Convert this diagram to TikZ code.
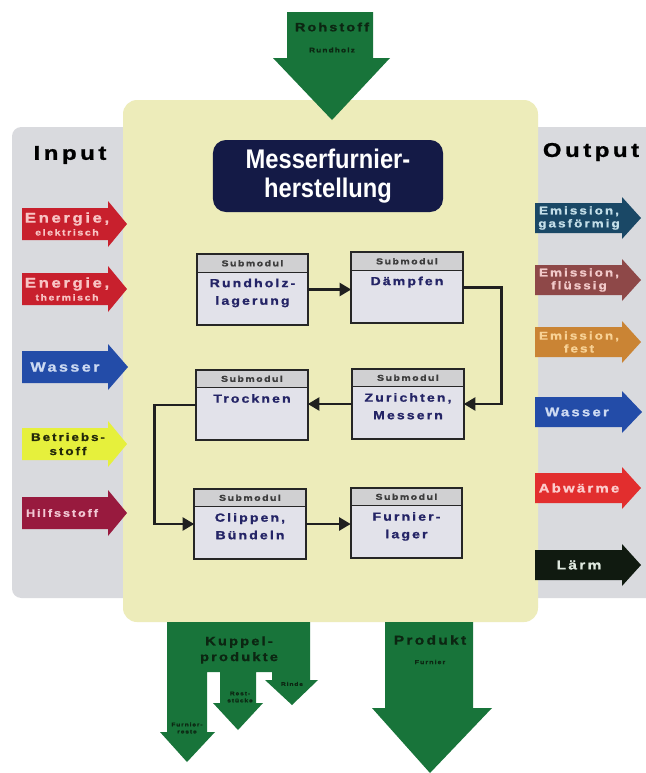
\documentclass[tikz,border=0pt]{standalone}
\usepackage{fontspec}
\setmainfont{Liberation Sans}
\newfontfamily\wf[FakeStretch=1.2,LetterSpace=18,FakeBold=1.2]{Liberation Sans}
\newfontfamily\tf[FakeStretch=0.88]{Liberation Sans}
\usetikzlibrary{calc,arrows.meta}

\definecolor{panelgray}{RGB}{217,218,222}
\definecolor{yellowbg}{RGB}{237,236,186}
\definecolor{prodgreen}{RGB}{24,116,58}
\definecolor{greentext}{RGB}{12,38,18}
\definecolor{navy}{RGB}{20,26,70}
\definecolor{cRed}{RGB}{200,32,45}
\definecolor{cRedTxt}{RGB}{248,196,196}
\definecolor{cBlue}{RGB}{35,76,168}
\definecolor{cBlueTxt}{RGB}{205,218,242}
\definecolor{cYel}{RGB}{230,240,60}
\definecolor{cYelTxt}{RGB}{35,40,10}
\definecolor{cCrim}{RGB}{152,26,62}
\definecolor{cCrimTxt}{RGB}{242,200,212}
\definecolor{cTeal}{RGB}{26,72,102}
\definecolor{cTealTxt}{RGB}{195,222,232}
\definecolor{cBrown}{RGB}{142,72,72}
\definecolor{cBrownTxt}{RGB}{242,202,202}
\definecolor{cOrange}{RGB}{202,132,52}
\definecolor{cOrangeTxt}{RGB}{248,210,150}
\definecolor{cHot}{RGB}{226,46,46}
\definecolor{cHotTxt}{RGB}{252,205,205}
\definecolor{cBlack}{RGB}{16,26,16}
\definecolor{cBlackTxt}{RGB}{222,232,222}
\definecolor{boxfill}{RGB}{226,226,234}
\definecolor{headfill}{RGB}{208,208,210}
\definecolor{boxline}{RGB}{38,38,38}
\definecolor{headtxt}{RGB}{60,60,60}
\definecolor{bodytxt}{RGB}{36,36,102}
\definecolor{connline}{RGB}{32,32,32}

% left/right flow arrow: #1 x left, #2 head start, #3 tip, #4 y centre, #5 colour
\newcommand\harrow[5]{\fill[#5] (#1,#4-16) -- (#2,#4-16) -- (#2,#4-23) -- (#3,#4) -- (#2,#4+23) -- (#2,#4+16) -- (#1,#4+16) -- cycle;}
\newcommand\rarrowshape[5]{\fill[#5] (#1,#4-15) -- (#2,#4-15) -- (#2,#4-21) -- (#3,#4) -- (#2,#4+21) -- (#2,#4+15) -- (#1,#4+15) -- cycle;}

\newcommand\submodul[4]{%
 \node[subbox] (#1) at (#2,#3) {};
 \fill[headfill] (#1.north west) rectangle ($(#1.north east)+(0,18)$);
 \draw[boxline, line width=0.8pt] ($(#1.north west)+(0,18)$) -- ($(#1.north east)+(0,18)$);
 \draw[boxline, line width=1.6pt] (#1.north west) rectangle (#1.south east);
 \node[headtext] (#1-h) at ($(#1.north)+(0,9)$) {Submodul};
 \node[bodytext] (#1-t) at ($(#1.north)+(0,23)$) {#4};
}

\begin{document}
\begin{tikzpicture}[x=0.03cm,y=-0.03cm,
  subbox/.style={fill=boxfill, minimum width=3.33cm, minimum height=2.1cm, inner sep=0pt},
  headtext/.style={font=\wf\bfseries\fontsize{7.4}{8}\selectfont, text=headtxt, inner sep=0pt},
  bodytext/.style={font=\wf\bfseries\fontsize{10}{15}\selectfont, text=bodytxt, align=center, anchor=north, inner sep=1pt},
  conn/.style={draw=connline, line width=2.5pt, -{Triangle[length=10pt,width=11pt]}},
  flowtext/.style={font=\wf\bfseries, align=center, inner sep=0pt},
  bigtext/.style={font=\wf\bfseries\fontsize{17}{18}\selectfont, text=black, inner sep=0pt},
  greenlabel/.style={font=\wf\bfseries, text=greentext, align=center, inner sep=0pt},
  titlebox/.style={fill=navy, rounded corners=11pt, minimum width=6.9cm, minimum height=2.16cm, inner sep=0pt,
     text=white, align=center, font=\tf\bfseries\fontsize{23}{25}\selectfont}
]
\useasboundingbox (0,0) rectangle (646,773);
\fill[white] (0,0) rectangle (646,773);

% background panels
\fill[panelgray, rounded corners=8pt] (12,127) rectangle (680,598);
\fill[yellowbg, rounded corners=12pt] (123,100) rectangle (538,622);

% Input / Output headings
\node[bigtext] (input) at (70,155) {Input};
\node[bigtext] (output) at (591,152) {Output};

% input arrows
\harrow{22}{108}{127}{224}{cRed}
\node[flowtext, text=cRedTxt] (in1) at (67,224) {{\fontsize{12}{12}\selectfont Energie,}\\[-1pt]{\fontsize{7.5}{9}\selectfont elektrisch}};
\harrow{22}{108}{127}{289}{cRed}
\node[flowtext, text=cRedTxt] (in2) at (67,289) {{\fontsize{12}{12}\selectfont Energie,}\\[-1pt]{\fontsize{7.5}{9}\selectfont thermisch}};
\harrow{22}{108}{128}{367}{cBlue}
\node[flowtext, text=cBlueTxt, font=\wf\bfseries\fontsize{11.5}{12}\selectfont] (in3) at (65,367) {Wasser};
\harrow{22}{108}{127}{444}{cYel}
\node[flowtext, text=cYelTxt, font=\wf\bfseries\fontsize{9.5}{12}\selectfont] (in4) at (68,444) {Betriebs-\\stoff};
\harrow{22}{108}{127}{513}{cCrim}
\node[flowtext, text=cCrimTxt, font=\wf\bfseries\fontsize{9}{10}\selectfont] (in5) at (62,513) {Hilfsstoff};

% output arrows
\rarrowshape{535}{622}{641}{218}{cTeal}
\node[flowtext, text=cTealTxt, font=\wf\bfseries\fontsize{9.6}{11}\selectfont] (out1) at (579,218) {Emission,\\gasförmig};
\rarrowshape{535}{622}{641}{280}{cBrown}
\node[flowtext, text=cBrownTxt, font=\wf\bfseries\fontsize{9.6}{11}\selectfont] (out2) at (579,280) {Emission,\\flüssig};
\rarrowshape{535}{622}{641}{342}{cOrange}
\node[flowtext, text=cOrangeTxt, font=\wf\bfseries\fontsize{9.6}{11}\selectfont] (out3) at (579,342) {Emission,\\fest};
\rarrowshape{535}{622}{642}{412}{cBlue}
\node[flowtext, text=cBlueTxt, font=\wf\bfseries\fontsize{10.6}{12}\selectfont] (out4) at (577,412) {Wasser};
\rarrowshape{535}{622}{641}{488}{cHot}
\node[flowtext, text=cHotTxt, font=\wf\bfseries\fontsize{10.6}{12}\selectfont] (out5) at (579,488) {Abwärme};
\rarrowshape{535}{622}{641}{565}{cBlack}
\node[flowtext, text=cBlackTxt, font=\wf\bfseries\fontsize{11}{12}\selectfont] (out6) at (579,565) {Lärm};

% Rohstoff arrow
\fill[prodgreen] (287,12) -- (373,12) -- (373,58) -- (390,58) -- (332,120) -- (273,58) -- (287,58) -- cycle;
\node[greenlabel, font=\wf\bfseries\fontsize{10.2}{11}\selectfont] (rohstoff) at (332,27) {Rohstoff};
\node[greenlabel, font=\wf\bfseries\fontsize{5.8}{7}\selectfont] (rundholz) at (332,50) {Rundholz};

% title
\node[titlebox] (title) at (328,176) {Messerfurnier-\\herstellung};

% submodules
\submodul{b1}{252.5}{289.5}{Rundholz-\\lagerung}
\submodul{b2}{407}{287.5}{Dämpfen}
\submodul{b3}{252}{405}{Trocknen}
\submodul{b4}{408}{404}{Zurichten,\\Messern}
\submodul{b5}{250}{524}{Clippen,\\Bündeln}
\submodul{b6}{406.5}{523}{Furnier-\\lager}

% connectors
\draw[conn] (b1.east) -- (b1.east -| b2.west);
\draw[conn] (b2.east) -- ($(b2.east)+(39,0)$) |- (b4.east);
\draw[conn] (b4.west) -- (b4.west -| b3.east);
\draw[conn] (b3.west) -- ++(-42,0) |- (b5.west);
\draw[conn] (b5.east) -- (b5.east -| b6.west);

% Kuppelprodukte
\fill[prodgreen] (167,622) -- (310,622) -- (310,680) -- (318,680) -- (292,705) -- (265,680) -- (272,680)
  -- (272,672) -- (256,672) -- (256,703) -- (263,703) -- (238,730) -- (213,703) -- (220,703)
  -- (220,672) -- (207,672) -- (207,732) -- (215,732) -- (187,762) -- (160,732) -- (167,732) -- cycle;
\node[greenlabel, font=\wf\bfseries\fontsize{10.4}{13.5}\selectfont] (kuppel) at (239,650) {Kuppel-\\produkte};
\node[greenlabel, font=\wf\bfseries\fontsize{4.6}{6}\selectfont] (rinde) at (292,684) {Rinde};
\node[greenlabel, font=\wf\bfseries\fontsize{4.6}{6}\selectfont] (rest) at (240,697) {Rest-\\stücke};
\node[greenlabel, font=\wf\bfseries\fontsize{4.6}{6}\selectfont] (reste) at (187,728) {Furnier-\\reste};

% Produkt
\fill[prodgreen] (385,622) -- (473,622) -- (473,708) -- (492,708) -- (430,773) -- (372,708) -- (385,708) -- cycle;
\node[greenlabel, font=\wf\bfseries\fontsize{11}{12}\selectfont] (produkt) at (430,640) {Produkt};
\node[greenlabel, font=\wf\bfseries\fontsize{5}{6}\selectfont] (furnier) at (430,662) {Furnier};
\end{tikzpicture}
\end{document}
